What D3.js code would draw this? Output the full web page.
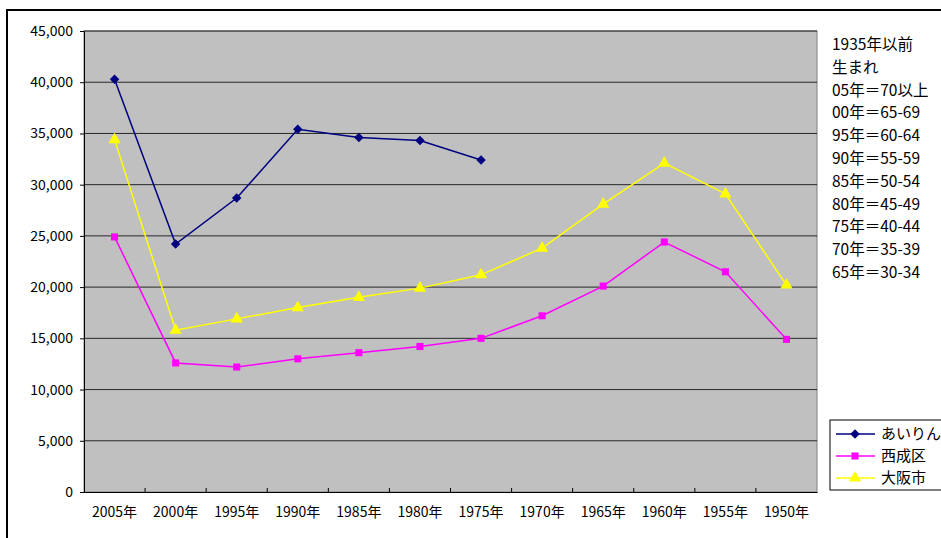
<!DOCTYPE html>
<html><head><meta charset="utf-8">
<script src="https://cdn.jsdelivr.net/npm/d3@7"></script>
<style>body{margin:0;background:#fff;overflow:hidden}text{font-family:"Noto Sans CJK JP",sans-serif}</style>
</head><body>
<script>
const categories = ["2005年","2000年","1995年","1990年","1985年","1980年","1975年","1970年","1965年","1960年","1955年","1950年"];
const airin = [40300, 24200, 28700, 35400, 34600, 34300, 32400, null, null, null, null, null];
const nishinari = [24900, 12600, 12200, 13000, 13600, 14200, 15000, 17200, 20100, 24400, 21500, 14900];
const osaka = [34400, 15800, 16900, 18000, 19000, 19900, 21200, 23800, 28100, 32100, 29100, 20200];
const yTicks = [0, 5000, 10000, 15000, 20000, 25000, 30000, 35000, 40000, 45000];
const note = ["1935年以前","生まれ","05年＝70以上","00年＝65-69","95年＝60-64","90年＝55-59","85年＝50-54","80年＝45-49","75年＝40-44","70年＝35-39","65年＝30-34"];

const W = 941, H = 538;
const svg = d3.select("body").append("svg").attr("width", W).attr("height", H);
svg.append("rect").attr("x", 7).attr("y", 10).attr("width", 960).attr("height", 560)
  .attr("fill", "none").attr("stroke", "#000").attr("stroke-width", 2);

const L = 84, R = 817, T = 31, B = 492;
const x = d3.scaleBand().domain(categories).range([L, R]);
const y = d3.scaleLinear().domain([0, 45000]).range([B, T]);

svg.append("rect").attr("x", L).attr("y", T).attr("width", R - L).attr("height", B - T)
  .attr("fill", "#c0c0c0").attr("stroke", "#808080");
svg.append("g").selectAll("line").data(yTicks.slice(1)).join("line")
  .attr("x1", L).attr("x2", R).attr("y1", d => y(d)).attr("y2", d => y(d)).attr("stroke", "#000").attr("stroke-width", 0.8);

const ya = svg.append("g").attr("transform", `translate(${L},0)`)
  .call(d3.axisLeft(y).tickValues(yTicks).tickFormat(d3.format(",")).tickSize(4));
ya.select(".domain").attr("stroke", "#000");
ya.selectAll("text").attr("font-size", 14).attr("font-family", "Liberation Sans, Arial").attr("dx", -4);
const xa = svg.append("g").attr("transform", `translate(0,${B})`)
  .call(d3.axisBottom(x).tickSize(0).tickSizeOuter(0));
xa.selectAll(".tick line").remove();
xa.selectAll("line.sep").data(categories.slice(1)).join("line").attr("class", "sep")
  .attr("x1", d => x(d)).attr("x2", d => x(d)).attr("y1", 0).attr("y2", -4).attr("stroke", "#000");
xa.select(".domain").attr("stroke", "#000");
xa.selectAll("text").attr("font-size", 14).attr("dy", 22);

const cx = d => x(d) + x.bandwidth() / 2;
const series = [
  {name: "あいりん", vals: airin, color: "#000080", sym: d3.symbolSquare, size: 45, rot: 45},
  {name: "西成区", vals: nishinari, color: "#ff00ff", sym: d3.symbolSquare, size: 50, rot: 0},
  {name: "大阪市", vals: osaka, color: "#ffff00", sym: d3.symbolTriangle, size: 65, rot: 0}
];
const line = d3.line().defined(d => d[1] != null).x(d => cx(d[0])).y(d => y(d[1]));
series.forEach(s => {
  const pts = categories.map((c, i) => [c, s.vals[i]]);
  svg.append("path").attr("d", line(pts)).attr("fill", "none").attr("stroke", s.color).attr("stroke-width", 1.5);
  svg.append("g").selectAll("path").data(pts.filter(d => d[1] != null)).join("path")
    .attr("d", d3.symbol(s.sym, s.size)).attr("fill", s.color)
    .attr("transform", d => `translate(${cx(d[0])},${y(d[1])}) rotate(${s.rot})`);
});

svg.append("g").selectAll("text").data(note).join("text")
  .attr("x", 832).attr("y", (d, i) => 50 + i * 22.8).attr("font-size", 15.5).text(d => d);

const lg = svg.append("g");
lg.append("rect").attr("x", 830).attr("y", 420).attr("width", 130).attr("height", 70)
  .attr("fill", "#fff").attr("stroke", "#000");
series.forEach((s, i) => {
  const yy = 434 + i * 22;
  lg.append("line").attr("x1", 836).attr("x2", 875).attr("y1", yy).attr("y2", yy).attr("stroke", s.color).attr("stroke-width", 1.5);
  lg.append("path").attr("d", d3.symbol(s.sym, s.size)).attr("fill", s.color).attr("transform", `translate(855,${yy}) rotate(${s.rot})`);
  lg.append("text").attr("x", 881).attr("y", yy + 5).attr("font-size", 15).text(s.name);
});
</script>
</body></html>
